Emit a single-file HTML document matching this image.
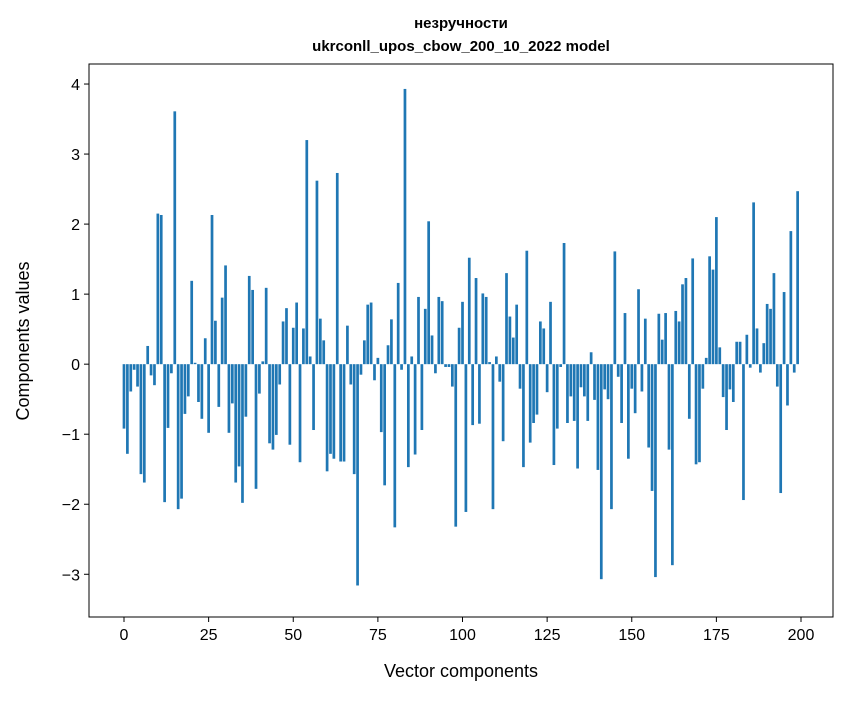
<!DOCTYPE html>
<html><head><meta charset="utf-8"><style>
body{margin:0;background:#fff;font-family:"Liberation Sans","DejaVu Sans",sans-serif}
</style></head><body>
<svg width="847" height="696" xmlns="http://www.w3.org/2000/svg">
<rect width="847" height="696" fill="#fff"/>
<text x="461" y="28" text-anchor="middle" font-size="15" font-weight="bold" font-family="Liberation Sans, sans-serif">незручности</text>
<text x="461" y="51" text-anchor="middle" font-size="15" font-weight="bold" font-family="Liberation Sans, sans-serif">ukrconll_upos_cbow_200_10_2022 model</text>
<g id="bars"></g>
<g id="axes"></g>
<rect x="89" y="64" width="744" height="553" fill="none" stroke="#000" stroke-width="1"/>
<text x="461" y="677" text-anchor="middle" font-size="18">Vector components</text>
<text transform="translate(29,341) rotate(-90)" text-anchor="middle" font-size="18">Components values</text>
</svg>
<script>
const values=[-0.92,-1.28,-0.39,-0.08,-0.32,-1.57,-1.69,0.26,-0.16,-0.30,
2.15,2.13,-1.97,-0.91,-0.13,3.61,-2.07,-1.92,-0.71,-0.46,
1.19,0.02,-0.54,-0.78,0.37,-0.98,2.13,0.62,-0.61,0.95,
1.41,-0.98,-0.56,-1.69,-1.46,-1.98,-0.75,1.26,1.06,-1.78,
-0.42,0.04,1.09,-1.13,-1.22,-1.01,-0.29,0.61,0.80,-1.15,
0.52,0.88,-1.40,0.51,3.2,0.11,-0.94,2.62,0.65,0.34,
-1.53,-1.28,-1.35,2.73,-1.39,-1.39,0.55,-0.29,-1.57,-3.16,
-0.15,0.34,0.85,0.88,-0.23,0.09,-0.97,-1.73,0.27,0.64,
-2.33,1.16,-0.08,3.93,-1.47,0.11,-1.29,0.96,-0.94,0.79,
2.04,0.41,-0.13,0.96,0.90,-0.04,-0.04,-0.32,-2.32,0.52,
0.89,-2.11,1.52,-0.87,1.23,-0.85,1.01,0.96,0.03,-2.07,
0.11,-0.25,-1.10,1.30,0.68,0.38,0.85,-0.35,-1.47,1.62,
-1.12,-0.84,-0.72,0.61,0.51,-0.40,0.89,-1.44,-0.92,-0.04,
1.73,-0.84,-0.46,-0.81,-1.49,-0.33,-0.46,-0.81,0.17,-0.51,
-1.51,-3.07,-0.36,-0.50,-2.07,1.61,-0.18,-0.84,0.73,-1.35,
-0.35,-0.70,1.07,-0.39,0.65,-1.19,-1.81,-3.04,0.72,0.35,
0.73,-1.22,-2.87,0.76,0.61,1.14,1.23,-0.78,1.51,-1.43,
-1.40,-0.35,0.09,1.54,1.35,2.10,0.24,-0.47,-0.94,-0.36,
-0.54,0.32,0.32,-1.94,0.42,-0.05,2.31,0.51,-0.12,0.30,
0.86,0.79,1.30,-0.32,-1.84,1.03,-0.59,1.90,-0.12,2.47];
const xTicks=[0,25,50,75,100,125,150,175,200];
const yTicks=[-3,-2,-1,0,1,2,3,4];
const NS="http://www.w3.org/2000/svg";
const X0=89,X1=833,Y0=64,Y1=617,xmin=-10.34,xmax=209.45,ymin=-3.61,ymax=4.286;
const xs=v=>X0+(v-xmin)/(xmax-xmin)*(X1-X0);
const ys=v=>Y1-(v-ymin)/(ymax-ymin)*(Y1-Y0);
const bars=document.getElementById('bars');
values.forEach((v,i)=>{
 const r=document.createElementNS(NS,'rect');
 
 
 const w=xs(0.8)-xs(0);
 r.setAttribute('x',xs(i)-w/2);r.setAttribute('width',w);
 r.setAttribute('y',Math.min(ys(v),ys(0)));r.setAttribute('height',Math.abs(ys(v)-ys(0)));
 r.setAttribute('fill','#1f77b4');bars.appendChild(r);
});
const ax=document.getElementById('axes');
xTicks.forEach(t=>{
 const l=document.createElementNS(NS,'line');
 
 
 l.setAttribute('x1',xs(t));l.setAttribute('x2',xs(t));l.setAttribute('y1',Y1);l.setAttribute('y2',Y1+5);l.setAttribute('stroke','#000');ax.appendChild(l);
 const s=document.createElementNS(NS,'text');
 
 
 s.setAttribute('x',xs(t));s.setAttribute('y',Y1+23);s.setAttribute('text-anchor','middle');s.setAttribute('font-size','16');s.textContent=t;ax.appendChild(s);
});
yTicks.forEach(t=>{
 const l=document.createElementNS(NS,'line');
 
 
 l.setAttribute('x1',X0-5);l.setAttribute('x2',X0);l.setAttribute('y1',ys(t));l.setAttribute('y2',ys(t));l.setAttribute('stroke','#000');ax.appendChild(l);
 const s=document.createElementNS(NS,'text');
 
 
 s.setAttribute('x',X0-9);s.setAttribute('y',ys(t)+6);s.setAttribute('text-anchor','end');s.setAttribute('font-size','16');s.textContent=(t<0?'\u2212'+(-t):t);ax.appendChild(s);
});
</script>
</body></html>
